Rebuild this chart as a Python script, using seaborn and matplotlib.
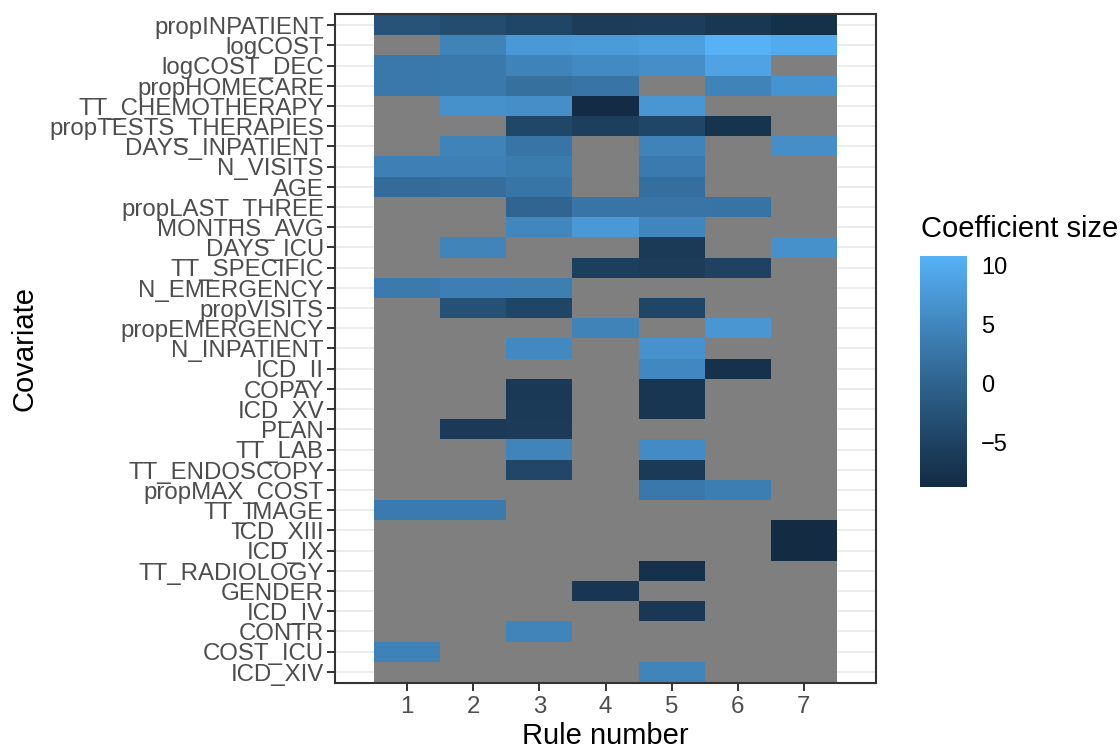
import numpy as np
import pandas as pd
import seaborn as sns
import matplotlib
matplotlib.use("Agg")
import matplotlib.pyplot as plt
from matplotlib.colors import ListedColormap
from matplotlib.transforms import ScaledTranslation

N = np.nan

covariates = [
    "propINPATIENT", "logCOST", "logCOST_DEC", "propHOMECARE", "TT_CHEMOTHERAPY",
    "propTESTS_THERAPIES", "DAYS_INPATIENT", "N_VISITS", "AGE", "propLAST_THREE",
    "MONTHS_AVG", "DAYS_ICU", "TT_SPECIFIC", "N_EMERGENCY", "propVISITS",
    "propEMERGENCY", "N_INPATIENT", "ICD_II", "COPAY", "ICD_XV", "PLAN", "TT_LAB",
    "TT_ENDOSCOPY", "propMAX_COST", "TT_IMAGE", "ICD_XIII", "ICD_IX",
    "TT_RADIOLOGY", "GENDER", "ICD_IV", "CONTR", "COST_ICU", "ICD_XIV",
]
rules = [1, 2, 3, 4, 5, 6, 7]

# coefficient of each covariate within each rule (NaN = covariate not in rule)
rule1 = [-2.5, N, 3.0, 3.0, N, N, N, 4.2, 1.2, N, N, N, N, 3.3, N, N, N, N, N, N,
         N, N, N, N, 3.3, N, N, N, N, N, N, 4.4, N]
rule2 = [-3.5, 4.5, 3.2, 3.1, 6.5, N, 4.5, 4.2, 1.6, N, N, 4.6, N, 4.0, -2.8, N, N,
         N, N, N, -6.3, N, N, N, 3.3, N, N, N, N, N, N, N, N]
rule3 = [-4.5, 7.5, 4.5, 1.8, 6.0, -4.3, 2.5, 3.5, 2.6, 0.3, 5.0, N, N, 3.9, -4.5,
         N, 5.3, N, -6.5, -6.2, -6.1, 4.6, -4.4, N, N, N, N, N, N, N, 4.6, N, N]
rule4 = [-6.0, 7.8, 5.5, 2.5, -8.7, -5.5, N, N, N, 2.5, 7.5, N, -5.5, N, N, 4.5, N,
         N, N, N, N, N, N, N, N, N, N, N, -7.0, N, N, N, N]
rule5 = [-5.8, 8.5, 6.0, N, 7.2, -4.5, 4.5, 3.3, 1.7, 2.4, 4.8, -6.2, -6.0, N, -4.5,
         N, 6.6, 5.2, -7.0, -7.0, N, 5.6, -6.2, 3.0, N, N, N, -7.8, N, -6.6, N, N, 4.6]
rule6 = [-6.8, 10.8, 8.8, 4.5, N, -7.3, N, N, N, 2.3, N, N, -5.0, N, N, 7.2, N,
         -7.8, N, N, N, N, N, 3.8, N, N, N, N, N, N, N, N, N]
rule7 = [-8.0, 10.0, N, 6.8, N, N, 6.0, N, N, N, N, 6.5, N, N, N, N, N, N, N, N,
         N, N, N, N, N, -8.8, -8.8, N, N, N, N, N, N]

coef = pd.DataFrame(
    {r: vals for r, vals in zip(rules, [rule1, rule2, rule3, rule4, rule5, rule6, rule7])},
    index=covariates,
)


# ---- Lab-space gradient between two colours ---------------------------------
def _srgb_to_lab(rgb):
    rgb = np.asarray(rgb, dtype=float)
    lin = np.where(rgb <= 0.04045, rgb / 12.92, ((rgb + 0.055) / 1.055) ** 2.4)
    m = np.array([[0.4124564, 0.3575761, 0.1804375],
                  [0.2126729, 0.7151522, 0.0721750],
                  [0.0193339, 0.1191920, 0.9503041]])
    xyz = lin @ m.T
    white = np.array([0.95047, 1.0, 1.08883])
    t = xyz / white
    f = np.where(t > (6 / 29) ** 3, np.cbrt(t), t / (3 * (6 / 29) ** 2) + 4 / 29)
    L = 116 * f[..., 1] - 16
    a = 500 * (f[..., 0] - f[..., 1])
    b = 200 * (f[..., 1] - f[..., 2])
    return np.stack([L, a, b], axis=-1)


def _lab_to_srgb(lab):
    L, a, b = lab[..., 0], lab[..., 1], lab[..., 2]
    fy = (L + 16) / 116
    fx = fy + a / 500
    fz = fy - b / 200
    d = 6 / 29
    finv = lambda f: np.where(f > d, f ** 3, 3 * d * d * (f - 4 / 29))
    white = np.array([0.95047, 1.0, 1.08883])
    xyz = np.stack([finv(fx), finv(fy), finv(fz)], axis=-1) * white
    minv = np.array([[3.2404542, -1.5371385, -0.4985314],
                     [-0.9692660, 1.8760108, 0.0415560],
                     [0.0556434, -0.2040259, 1.0572252]])
    lin = xyz @ minv.T
    lin = np.clip(lin, 0, 1)
    rgb = np.where(lin <= 0.0031308, 12.92 * lin, 1.055 * lin ** (1 / 2.4) - 0.055)
    return np.clip(rgb, 0, 1)


def lab_gradient(low, high, n=256):
    lo = _srgb_to_lab(matplotlib.colors.to_rgb(low))
    hi = _srgb_to_lab(matplotlib.colors.to_rgb(high))
    t = np.linspace(0, 1, n)[:, None]
    return ListedColormap(_lab_to_srgb(lo + (hi - lo) * t))


blues = lab_gradient("#132B43", "#56B1F7")

# ---- figure -------------------------------------------------------------------
sns.set_theme(style="white")
plt.rcParams["font.family"] = ["Liberation Sans", "DejaVu Sans"]

fig = plt.figure(figsize=(11.2, 7.49), dpi=100)
ax = fig.add_axes([335 / 1120, 66 / 749, 541 / 1120, 669 / 749])
cax = fig.add_axes([920 / 1120, 262 / 749, 47 / 1120, 231 / 749])

# grey tiles for covariates absent from a rule
missing = coef.isna().astype(float).where(coef.isna())
sns.heatmap(missing, cmap=ListedColormap(["#7F7F7F"]), cbar=False, ax=ax)

sns.heatmap(coef, cmap=blues, vmin=np.nanmin(coef.values), vmax=np.nanmax(coef.values),
            ax=ax, cbar_ax=cax, cbar_kws={"ticks": [-5, 0, 5, 10]})

ax.set_xlim(-0.59, 7.59)
ax.set_ylim(33.05, -0.05)

ax.set_axisbelow(True)
ax.grid(axis="y", color="#EBEBEB", linewidth=1.3)
ax.grid(axis="x", visible=False)

for s in ax.spines.values():
    s.set_visible(True)
    s.set_color("#333333")
    s.set_linewidth(1.5)

ax.set_yticks(np.arange(len(covariates)) + 0.5)
ax.set_yticklabels(covariates, rotation=0)
ax.set_xticks(np.arange(len(rules)) + 0.5)
ax.set_xticklabels([str(r) for r in rules], rotation=0)
ax.tick_params(axis="both", which="major", direction="out", length=5.5, width=1.4,
               color="#333333", labelcolor="#4D4D4D", labelsize=17.3, pad=2.5,
               left=True, bottom=True)
ax.tick_params(axis="x", pad=4)

# nudge covariate names so their glyph boxes sit centred on each row
shift = ScaledTranslation(0, -2 / 72, fig.dpi_scale_trans)
for lab in ax.get_yticklabels():
    lab.set_transform(lab.get_transform() + shift)

ax.set_xlabel("Rule number", fontsize=21, color="black")
ax.set_ylabel("Covariate", fontsize=21, color="black")
ax.xaxis.set_label_coords(0.5, (683 - 736) / 669)
ax.xaxis.label.set_va("center")
ax.yaxis.set_label_coords((25 - 335) / 541, 0.5)
ax.yaxis.label.set_va("center")

# colour bar styling
cbar = ax.collections[-1].colorbar
cbar.outline.set_visible(False)
cax.tick_params(axis="y", which="major", direction="in", length=6.5, width=1,
                color="white", labelcolor="black", labelsize=17, pad=10,
                left=True, right=True, labelleft=False, labelright=True)
cax.tick_params(axis="y", which="minor", length=0)

fig.text(921 / 1120, 1 - 229 / 749, "Coefficient size", fontsize=21, color="black",
         ha="left", va="center")

fig.savefig("out.png", dpi=100)
